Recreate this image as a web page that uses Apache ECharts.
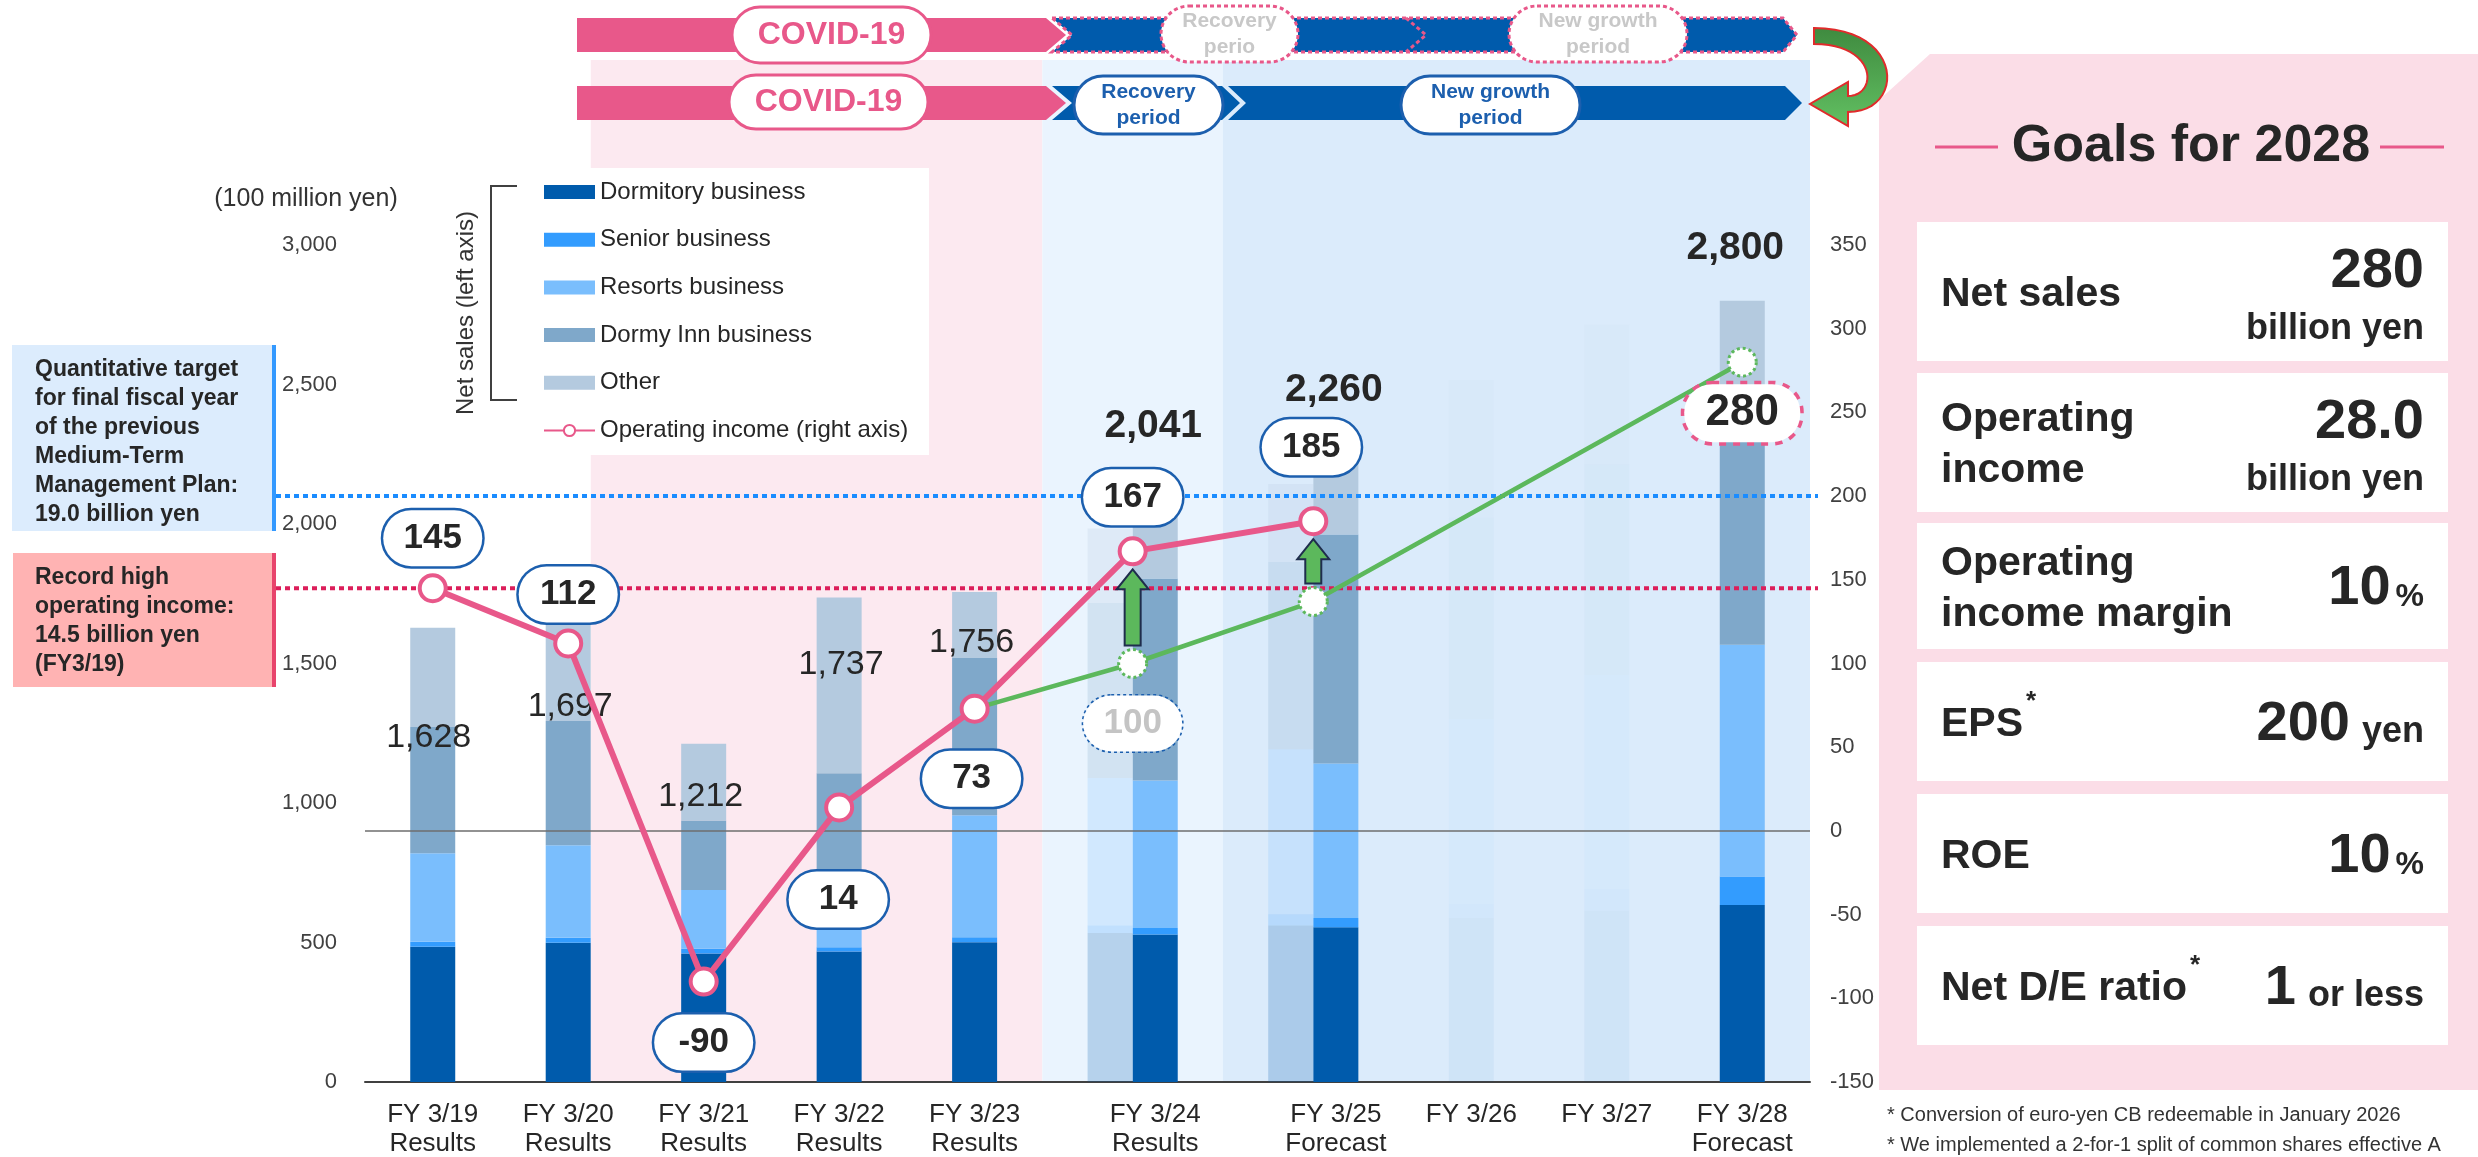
<!DOCTYPE html>
<html>
<head>
<meta charset="utf-8">
<title>Goals for 2028</title>
<script src="https://cdn.jsdelivr.net/npm/echarts@6.0.0/dist/echarts.min.js"></script>
<style>
  html, body { margin: 0; padding: 0; background: #fff; }
  #chart { width: 2478px; height: 1157px; }
</style>
</head>
<body>
<div id="chart"></div>
<script>
// ---- data (100 million yen / operating income on right axis) ----
var years = ['FY 3/19', 'FY 3/20', 'FY 3/21', 'FY 3/22', 'FY 3/23', 'FY 3/24', 'FY 3/25', 'FY 3/26', 'FY 3/27', 'FY 3/28'];
var periodType = ['Results', 'Results', 'Results', 'Results', 'Results', 'Results', 'Forecast', '', '', 'Forecast'];
var dormitory = [485, 499, 461, 468, 501, 529, 555, 588, 614, 634];
var senior = [18, 18, 17, 15, 18, 23, 33, 50, 78, 103];
var resorts = [317, 332, 210, 217, 437, 529, 554, 663, 767, 830];
var dormyInn = [452, 445, 249, 407, 564, 724, 820, 721, 755, 833];
var other = [356, 403, 275, 630, 236, 236, 298, 494, 500, 400];
var netSales = [1628, 1697, 1212, 1737, 1756, 2041, 2260, null, null, 2800];
var operatingIncome = [145, 112, -90, 14, 73, 167, 185, null, null, null];

// previous medium-term plan (faded bars next to FY3/24, FY3/25 and the green line)
var planDormitory = [534, 561];
var planSenior = [27, 40];
var planResorts = [529, 592];
var planDormyInn = [627, 671];
var planOther = [267, 279];
var planIncome = [null, null, null, null, 73, 100, 137, null, null, 280];

var leftTicks = [0, 3000, 500];
var rightTicks = [-150, 350, 50];
var prevTarget = 200;   // dotted blue line (right axis)
var recordHigh = 145;   // dotted red line (right axis)

var goalLabels = [['Net sales'], ['Operating', 'income'], ['Operating', 'income margin'], ['EPS'], ['ROE'], ['Net D/E ratio']];
var goalStars = [false, false, false, true, false, true];
var goalValues = ['280', '28.0', '10', '200', '10', '1'];
var goalUnits = ['billion yen', 'billion yen', '%', 'yen', '%', 'or less'];

// ---- layout ----
var SLOTS = 32;
var barSlot = [1, 4, 7, 10, 13, 17, 21, 24, 27, 30];
var planSlot = [16, 20];
var lineX = [1.5, 4.5, 7.5, 10.5, 13.5, 17, 21, 24.5, 27.5, 30.5];
var faded = [7, 8];
var salesLabelOffset = [[-4, 110], [2, 98], [-3, 53], [2, 67], [-3, 51], [-2, -86], [-2, -61], null, null, [-7, -53]];
var incomeLabelOffset = [[0, -50], [0, -49], [0, 61], [-1, 92], [-3, 70], [0, -54], [-2, -74]];

var FONT = "'Liberation Sans', Arial, sans-serif";
var INK = '#262626';
var PINK = '#e8588a';
var BLUE = '#005bac';
var GREEN = '#5cb85c';
var BOX_BLUE = '#1c5fae';

var segNames = ['Dormitory business', 'Senior business', 'Resorts business', 'Dormy Inn business', 'Other'];
var segValues = [dormitory, senior, resorts, dormyInn, other];
var planValues = [planDormitory, planSenior, planResorts, planDormyInn, planOther];
var segColors = ['#005bac', '#339cfe', '#7abefd', '#7fa8ca', '#b4cadf'];

var chart = echarts.init(document.getElementById('chart'));

var cats = [];
for (var i = 0; i < SLOTS; i++) cats.push('');
years.forEach(function (y, i) { cats[barSlot[i]] = periodType[i] ? y + '\n' + periodType[i] : y; });

function fmt(v) { return String(v).replace(/\B(?=(\d{3})+(?!\d))/g, ','); }

var series = [];
segNames.forEach(function (name, k) {
  var d = new Array(SLOTS).fill(null);
  segValues[k].forEach(function (v, i) {
    d[barSlot[i]] = faded.indexOf(i) >= 0 ? { value: v, itemStyle: { opacity: 0.05 } } : v;
  });
  series.push({ name: name, type: 'bar', stack: 'sales', barWidth: 45, barGap: '-100%', data: d,
    itemStyle: { color: segColors[k] }, z: 2, silent: true });
});
segNames.forEach(function (name, k) {
  var d = new Array(SLOTS).fill(null);
  planValues[k].forEach(function (v, i) { d[planSlot[i]] = v; });
  series.push({ name: 'plan ' + name, type: 'bar', stack: 'plan', barWidth: 45, barGap: '-100%', data: d,
    itemStyle: { color: segColors[k], opacity: 0.22 }, z: 2, silent: true });
});

// net sales totals
var totalsData = [];
netSales.forEach(function (v, i) {
  if (v == null) return;
  var big = i >= 5;
  totalsData.push({ value: [barSlot[i], v], label: { offset: salesLabelOffset[i], fontSize: big ? 39 : 34, fontWeight: big ? 'bold' : 'normal' } });
});
series.push({ name: 'totals', type: 'scatter', symbolSize: 1, itemStyle: { color: 'rgba(0,0,0,0)', opacity: 1 }, z: 3, silent: true,
  data: totalsData,
  label: { show: true, position: 'inside', color: INK, fontFamily: FONT, formatter: function (p) { return fmt(p.value[1]); } } });

// previous plan operating income (green)
var planIncomeData = [];
planIncome.forEach(function (v, i) {
  if (v == null) return;
  var item = { value: [lineX[i], v] };
  if (i === 4) item.symbol = 'none';
  if (i === 5) item.label = { show: true, offset: [0, 60], color: '#c4c4c4', borderColor: BOX_BLUE, borderWidth: 1.5, borderType: 'dotted' };
  if (i === 9) item.label = { show: true, offset: [0, 51], color: INK, borderColor: PINK, borderWidth: 3.5, borderType: 'dotted',
    fontSize: 44, lineHeight: 42, padding: [8, 18], width: 80 };
  planIncomeData.push(item);
});
series.push({ name: 'plan income', type: 'line', xAxisIndex: 1, yAxisIndex: 1, z: 4, silent: true,
  data: planIncomeData, symbol: 'circle', symbolSize: 28,
  lineStyle: { color: GREEN, width: 4.5 },
  itemStyle: { color: '#fff', borderColor: GREEN, borderWidth: 3, borderType: 'dotted' },
  label: { show: false, position: 'inside', fontFamily: FONT, fontWeight: 'bold', fontSize: 35, lineHeight: 36,
    backgroundColor: '#fff', borderRadius: 28, padding: [10, 20], width: 59, align: 'center',
    formatter: function (p) { return p.value[1]; } } });

// operating income (pink)
var incomeData = [];
operatingIncome.forEach(function (v, i) {
  if (v == null) return;
  incomeData.push({ value: [lineX[i], v], label: { offset: incomeLabelOffset[i] } });
});
series.push({ name: 'Operating income (right axis)', type: 'line', xAxisIndex: 1, yAxisIndex: 1, z: 6, silent: true,
  data: incomeData, symbol: 'circle', symbolSize: 26,
  lineStyle: { color: PINK, width: 6 },
  itemStyle: { color: '#fff', borderColor: PINK, borderWidth: 4 },
  label: { show: true, position: 'inside', color: INK, fontFamily: FONT, fontWeight: 'bold', fontSize: 35, lineHeight: 36,
    backgroundColor: '#fff', borderColor: BOX_BLUE, borderWidth: 2.5, borderRadius: 28, padding: [10, 20], width: 59, align: 'center',
    formatter: function (p) { return p.value[1]; } },
  markLine: { silent: true, symbol: 'none', label: { show: false }, lineStyle: { color: '#6e6e6e', width: 1.5, type: 'solid' },
    data: [{ yAxis: 0 }] } });

var axisText = { color: '#404040', fontSize: 22, fontFamily: FONT };

chart.setOption({
  animation: false,
  textStyle: { fontFamily: FONT },
  grid: { left: 365, right: 668, top: 245, bottom: 75, containLabel: false, outerBoundsMode: 'none' },
  legend: {
    data: segNames.map(function (n) { return { name: n, icon: 'rect' }; }).concat([{ name: 'Operating income (right axis)' }]),
    orient: 'vertical', left: 543, top: 178, itemWidth: 51, itemHeight: 14, itemGap: 19.7, padding: 0,
    selectedMode: false, textStyle: { fontSize: 24, color: INK, fontFamily: FONT, lineHeight: 28 }
  },
  xAxis: [
    { type: 'category', data: cats, boundaryGap: true,
      axisLine: { onZero: false, lineStyle: { color: '#404040', width: 2 } }, axisTick: { show: false },
      axisLabel: { interval: 0, color: INK, fontSize: 26, fontFamily: FONT, lineHeight: 29, margin: 18 },
      splitLine: { show: false } },
    { type: 'value', min: 0, max: SLOTS, show: false }
  ],
  yAxis: [
    { type: 'value', min: leftTicks[0], max: leftTicks[1], interval: leftTicks[2],
      axisLabel: Object.assign({ margin: 28, formatter: fmt }, axisText),
      splitLine: { show: false }, axisLine: { show: false }, axisTick: { show: false } },
    { type: 'value', min: rightTicks[0], max: rightTicks[1], interval: rightTicks[2], position: 'right',
      axisLabel: Object.assign({ margin: 20 }, axisText),
      splitLine: { show: false }, axisLine: { show: false }, axisTick: { show: false } }
  ],
  series: series
});

// ---- decorations ----
var measureCtx = document.createElement('canvas').getContext('2d');
function textWidth(s, font) { measureCtx.font = font; return measureCtx.measureText(s).width; }
function txt(x, y, s, font, color, align, z) {
  return { type: 'text', x: x, y: y, z: z || 20, silent: true,
    style: { text: s, font: font, fill: color, align: align || 'left', verticalAlign: 'middle' } };
}
function rect(x, y, w, h, style, z, r) {
  return { type: 'rect', z: z, silent: true, shape: { x: x, y: y, width: w, height: h, r: r || 0 }, style: style };
}
function poly(points, style, z) {
  return { type: 'polygon', z: z, silent: true, shape: { points: points }, style: style };
}
function bold(px) { return 'bold ' + px + 'px ' + FONT; }
function bezier(p0, p1, p2, p3, n) {
  var pts = [];
  for (var k = 0; k <= n; k++) {
    var t = k / n, u = 1 - t;
    pts.push([u * u * u * p0[0] + 3 * u * u * t * p1[0] + 3 * u * t * t * p2[0] + t * t * t * p3[0],
              u * u * u * p0[1] + 3 * u * u * t * p1[1] + 3 * u * t * t * p2[1] + t * t * t * p3[1]]);
  }
  return pts;
}

var px = function (v) { return chart.convertToPixel({ xAxisIndex: 1 }, v); };
var pyR = function (v) { return chart.convertToPixel({ yAxisIndex: 1 }, v); };
var yBase = chart.convertToPixel({ yAxisIndex: 0 }, 0);
var gfx = [];

// period bands
var bandTop = 60;
gfx.push(rect(px(5), bandTop, px(15) - px(5), yBase - bandTop, { fill: '#fce9f0' }, -5));
gfx.push(rect(px(15), bandTop, px(19) - px(15), yBase - bandTop, { fill: '#eaf4fe' }, -5));
gfx.push(rect(px(19), bandTop, px(SLOTS) - px(19), yBase - bandTop, { fill: '#dbebfb' }, -5));

// legend backdrop and bracket
gfx.push(rect(540, 168, 389, 287, { fill: '#fff' }, 0));
gfx.push({ type: 'polyline', z: 5, silent: true, shape: { points: [[517, 186], [491, 186], [491, 400], [517, 400]] },
  style: { stroke: '#404040', lineWidth: 2, fill: null } });
var rotated = txt(466, 313, 'Net sales (left axis)', '24px ' + FONT, '#333', 'center', 5);
rotated.rotation = Math.PI / 2;
gfx.push(rotated);
gfx.push(txt(306, 199, '(100 million yen)', '25px ' + FONT, '#333', 'center', 5));

// reference lines
var yTarget = pyR(prevTarget), yRecord = pyR(recordHigh);
gfx.push({ type: 'line', z: 3, silent: true, shape: { x1: 276, y1: yTarget, x2: 1818, y2: yTarget },
  style: { stroke: '#1a8cff', lineWidth: 4, lineDash: [5, 4] } });
gfx.push({ type: 'line', z: 3, silent: true, shape: { x1: 276, y1: yRecord, x2: 1818, y2: yRecord },
  style: { stroke: '#dc1e5a', lineWidth: 4, lineDash: [5, 4] } });

// annotation boxes on the left
gfx.push(rect(12, 345, 264, 186, { fill: '#dcecfd' }, 5));
gfx.push(rect(272, 345, 4, 186, { fill: '#3399ff' }, 5));
['Quantitative target', 'for final fiscal year', 'of the previous', 'Medium-Term', 'Management Plan:', '19.0 billion yen']
  .forEach(function (s, j) { gfx.push(txt(35, 370 + j * 28.9, s, bold(23), INK, 'left', 6)); });
gfx.push(rect(13, 553, 263, 134, { fill: '#ffb3b3' }, 5));
gfx.push(rect(272, 553, 4, 134, { fill: '#e8446c' }, 5));
['Record high', 'operating income:', '14.5 billion yen', '(FY3/19)']
  .forEach(function (s, j) { gfx.push(txt(35, 578 + j * 28.8, s, bold(23), INK, 'left', 6)); });

// green arrows: previous plan -> actual
[5, 6].forEach(function (i) {
  var x = px(lineX[i]);
  var yTop = pyR(operatingIncome[i]) + 18, yBot = pyR(planIncome[i]) - 18;
  var hw = 16, sw = 8, hl = 20;
  gfx.push(poly([[x, yTop], [x + hw, yTop + hl], [x + sw, yTop + hl], [x + sw, yBot], [x - sw, yBot], [x - sw, yTop + hl], [x - hw, yTop + hl]],
    { fill: GREEN, stroke: '#1f2d4d', lineWidth: 2 }, 12));
});

// period strips at the top
function pill(x, y, w, h, lines, stroke, dash, color, font) {
  gfx.push(rect(x, y, w, h, { fill: '#fff', stroke: stroke, lineWidth: 3, lineDash: dash || null }, 14, h / 2));
  var lh = lines.length > 1 ? 26 : 0;
  lines.forEach(function (s, j) {
    gfx.push(txt(x + w / 2, y + h / 2 + (j - (lines.length - 1) / 2) * lh, s, font, color, 'center', 15));
  });
}
// row 1: previous plan
gfx.push(poly([[577, 18], [1046, 18], [1066, 35], [1046, 52], [577, 52]], { fill: PINK }, 12));
gfx.push(poly([[1052, 18], [1783, 18], [1797, 35], [1783, 52], [1052, 52], [1072, 35]],
  { fill: BLUE, stroke: PINK, lineWidth: 3, lineDash: [4, 3] }, 12));
gfx.push({ type: 'polyline', z: 13, silent: true, shape: { points: [[1406, 18], [1426, 35], [1406, 52]] },
  style: { stroke: PINK, lineWidth: 3, lineDash: [4, 3], fill: null } });
pill(732, 7, 199, 56, ['COVID-19'], PINK, null, PINK, bold(32));
pill(1161, 6, 137, 56, ['Recovery', 'perio'], PINK, [4, 3], '#c8c8c8', bold(21));
pill(1509, 6, 178, 56, ['New growth', 'period'], PINK, [4, 3], '#c8c8c8', bold(21));
// row 2: current plan
gfx.push(poly([[577, 86], [1046, 86], [1066, 103], [1046, 120], [577, 120]], { fill: PINK }, 12));
gfx.push(poly([[1052, 86], [1222, 86], [1240, 103], [1222, 120], [1052, 120], [1072, 103]], { fill: BLUE }, 12));
gfx.push(poly([[1228, 86], [1785, 86], [1802, 103], [1785, 120], [1228, 120], [1246, 103]], { fill: BLUE }, 12));
pill(729, 75, 199, 54, ['COVID-19'], PINK, null, PINK, bold(32));
pill(1074, 76, 149, 58, ['Recovery', 'period'], BOX_BLUE, null, BOX_BLUE, bold(21));
pill(1401, 76, 179, 58, ['New growth', 'period'], BOX_BLUE, null, BOX_BLUE, bold(21));

// goals panel
gfx.push(poly([[1879, 100], [1930, 54], [2478, 54], [2478, 1090], [1879, 1090]], { fill: '#fbdde7' }, 1));
var turnPts = bezier([1814, 28], [1905, 28], [1905, 112], [1848, 112], 24)
  .concat([[1848, 126], [1810, 104], [1848, 82], [1848, 96]])
  .concat(bezier([1848, 96], [1878, 96], [1878, 44], [1814, 44], 24));
gfx.push(poly(turnPts, { fill: { type: 'linear', x: 0, y: 0, x2: 0, y2: 1, colorStops: [{ offset: 0, color: '#3f8a3f' }, { offset: 1, color: '#62c062' }] },
  stroke: '#e02b2b', lineWidth: 2 }, 16));
gfx.push(txt(2191, 147, 'Goals for 2028', bold(52), INK, 'center', 20));
gfx.push({ type: 'line', z: 20, silent: true, shape: { x1: 1935, y1: 147, x2: 1998, y2: 147 }, style: { stroke: PINK, lineWidth: 3 } });
gfx.push({ type: 'line', z: 20, silent: true, shape: { x1: 2380, y1: 147, x2: 2444, y2: 147 }, style: { stroke: PINK, lineWidth: 3 } });

var cardTop = [222, 373, 523, 662, 794, 926];
var cardBottom = [361, 512, 649, 781, 913, 1045];
var labelFont = bold(41), valueFont = bold(56);
var right = 2424;
goalLabels.forEach(function (lines, r) {
  var top = cardTop[r], bot = cardBottom[r], mid = (top + bot) / 2;
  gfx.push(rect(1917, top, 531, bot - top, { fill: '#fff' }, 18));
  lines.forEach(function (s, j) {
    gfx.push(txt(1941, mid + 3 + (j - (lines.length - 1) / 2) * 51, s, labelFont, INK, 'left', 20));
  });
  if (goalStars[r]) {
    var w = textWidth(lines[lines.length - 1], labelFont);
    gfx.push(txt(1941 + w + 3, mid - 20, '*', bold(26), INK, 'left', 20));
  }
  if (r < 2) {
    gfx.push(txt(right, top + 50, goalValues[r], valueFont, INK, 'right', 20));
    gfx.push(txt(right, top + 107, goalUnits[r], bold(36), INK, 'right', 20));
  } else {
    var unitSize = goalUnits[r] === '%' ? 32 : 36;
    var gap = goalUnits[r] === '%' ? 5 : 12;
    var vMid = mid + 3;
    var baseline = vMid + 0.36 * 56;
    gfx.push(txt(right, baseline - 0.36 * unitSize, goalUnits[r], bold(unitSize), INK, 'right', 20));
    var uw = textWidth(goalUnits[r], bold(unitSize));
    gfx.push(txt(right - uw - gap, vMid, goalValues[r], valueFont, INK, 'right', 20));
  }
});

gfx.push(txt(1887, 1115, '* Conversion of euro-yen CB redeemable in January 2026', '20px ' + FONT, '#333', 'left', 20));
gfx.push(txt(1887, 1145, '* We implemented a 2-for-1 split of common shares effective A', '20px ' + FONT, '#333', 'left', 20));

chart.setOption({ graphic: { elements: gfx } });
</script>
</body>
</html>
